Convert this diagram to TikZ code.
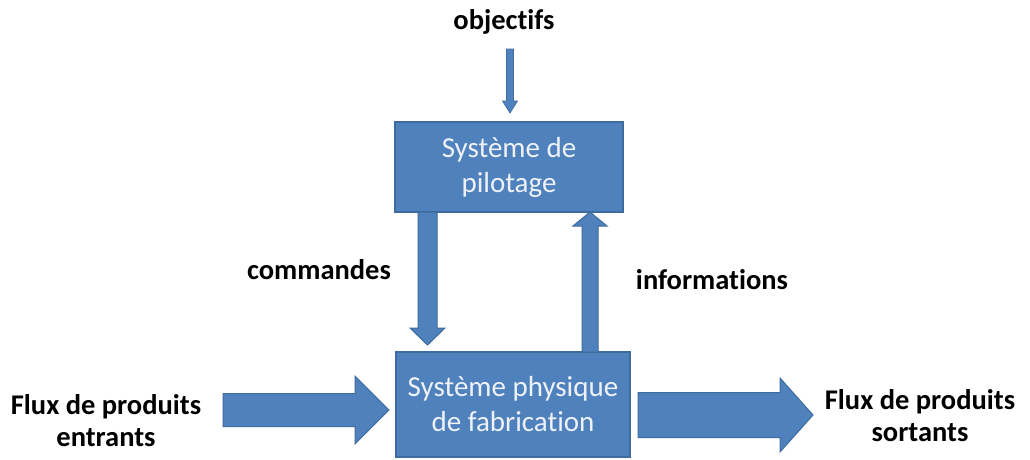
\documentclass[tikz,border=0pt]{standalone}
\usepackage{fontspec}
\setmainfont{Carlito}[RawFeature={-liga;-clig;-dlig;-calt;-rlig}]
\definecolor{boxfill}{HTML}{4F81BD}
\definecolor{boxline}{HTML}{3F6C9E}
\definecolor{boxtext}{HTML}{EEF2F8}
\begin{document}
\begin{tikzpicture}[x=1pt,y=-1pt,
  blockbox/.style={draw=boxline,fill=boxfill,line width=1.2pt,inner sep=0pt,
    text=boxtext,align=center,font=\fontsize{29}{35}\selectfont},
  lbl/.style={align=center,inner sep=0pt,font=\fontsize{28.5}{32}\selectfont\bfseries},
  barrow/.style={draw=boxline,fill=boxfill,line width=1pt,line join=miter}]
\useasboundingbox (0,0) rectangle (1030,459);
% boxes
\node[blockbox,minimum width=228pt,minimum height=90pt] (pil) at (509,167) {Système de\\pilotage};
\node[blockbox,minimum width=234pt,minimum height=105pt] (fab) at (513,404.5) {Système physique\\de fabrication};
% labels
\node[lbl] (obj) at (504,22) {objectifs};
\node[lbl] (cmd) at (319,270) {commandes};
\node[lbl] (inf) at (712,280) {informations};
\node[lbl] (fin) at (106,421) {Flux de produits\\entrants};
\node[lbl] (fout) at (920,416) {Flux de produits\\sortants};
% objectifs arrow (down)
\draw[barrow,line width=0.7pt] (506.5,49) -- (513.5,49) -- (513.5,101) -- (517.5,101) -- (510,113) -- (502.5,101) -- (506.5,101) -- cycle;
% commandes arrow (down)
\draw[barrow] (418,212) -- (437,212) -- (437,328) -- (445,328) -- (427.5,345) -- (410,328) -- (418,328) -- cycle;
% informations arrow (up)
\draw[barrow] (582,352) -- (598,352) -- (598,226) -- (607,226) -- (590,212) -- (573,226) -- (582,226) -- cycle;
% entrants arrow (right)
\draw[barrow] (223,393.5) -- (355,393.5) -- (355,376) -- (389,410) -- (355,444) -- (355,426.5) -- (223,426.5) -- cycle;
% sortants arrow (right)
\draw[barrow] (638,392.5) -- (780,392.5) -- (780,378) -- (813,415) -- (780,452) -- (780,437.5) -- (638,437.5) -- cycle;
\end{tikzpicture}
\end{document}
